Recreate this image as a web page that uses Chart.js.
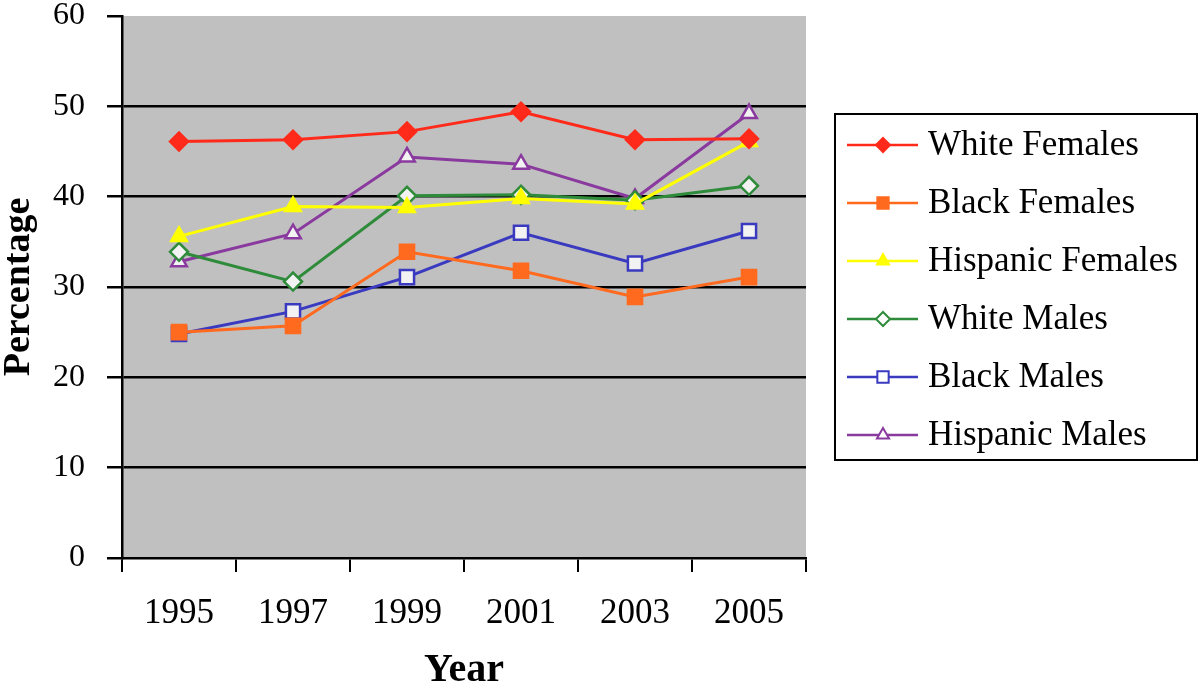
<!DOCTYPE html>
<html>
<head>
<meta charset="utf-8">
<script src="https://cdn.jsdelivr.net/npm/chart.js@4"></script>
<style>
  html, body { margin: 0; padding: 0; background: #fff; }
  #wrap { width: 1200px; height: 691px; }
</style>
</head>
<body>
<div id="wrap"><canvas id="chart"></canvas></div>
<script>
// data
const years = ["1995", "1997", "1999", "2001", "2003", "2005"];
const whiteFemales = [46.1, 46.3, 47.2, 49.4, 46.3, 46.4];
const blackFemales = [25.0, 25.7, 33.9, 31.8, 28.9, 31.1];
const hispanicFemales = [35.6, 38.9, 38.8, 39.8, 39.2, 46.1];
const whiteMales = [33.9, 30.6, 40.1, 40.2, 39.6, 41.2];
const blackMales = [24.8, 27.3, 31.1, 36.0, 32.6, 36.2];
const hispanicMales = [32.8, 35.9, 44.4, 43.6, 39.8, 49.2];
const yTicks = [0, 10, 20, 30, 40, 50, 60];

const serif = "'Liberation Serif', 'Times New Roman', serif";

function markerSize(style) {
  if (style === "rect") return 10;
  if (style === "triangle") return 9;
  return 9;
}

function series(label, data, color, style, filled) {
  return {
    label: label,
    data: data,
    borderColor: color,
    borderWidth: 3,
    pointStyle: style,
    pointRadius: markerSize(style),
    pointBorderColor: color,
    pointBorderWidth: 2.5,
    pointBackgroundColor: filled ? color : "#f2f2f2",
    tension: 0,
    fill: false,
    openMarker: !filled,
  };
}

const datasets = [
  series("White Females", whiteFemales, "#ff2a1a", "rectRot", true),
  series("Black Females", blackFemales, "#ff6a1f", "rect", true),
  series("Hispanic Females", hispanicFemales, "#ffff00", "triangle", true),
  series("White Males", whiteMales, "#2e8b3a", "rectRot", false),
  series("Black Males", blackMales, "#3a3ac0", "rect", false),
  series("Hispanic Males", hispanicMales, "#8a3a9f", "triangle", false),
];

// gray plot area
const plotBg = {
  id: "plotBg",
  beforeDraw: (chart) => {
    const { ctx, chartArea: a } = chart;
    ctx.save();
    ctx.fillStyle = "#c0c0c0";
    ctx.fillRect(a.left, a.top, a.right - a.left, a.bottom - a.top);
    ctx.restore();
  },
};

// boxed legend with line + marker samples
const boxLegend = {
  id: "boxLegend",
  afterDraw: (chart) => {
    const ctx = chart.ctx;
    const x0 = 835, y0 = 114, w = 362, h = 346;
    ctx.save();
    ctx.fillStyle = "#fff";
    ctx.fillRect(x0, y0, w, h);
    ctx.strokeStyle = "#000";
    ctx.lineWidth = 2;
    ctx.strokeRect(x0, y0, w, h);
    ctx.font = "35px " + serif;
    ctx.textBaseline = "middle";
    ctx.textAlign = "left";
    chart.data.datasets.forEach((ds, i) => {
      const y = 145 + i * 58;
      ctx.strokeStyle = ds.borderColor;
      ctx.lineWidth = 2.5;
      ctx.beginPath();
      ctx.moveTo(847, y);
      ctx.lineTo(918, y);
      ctx.stroke();
      ctx.fillStyle = ds.openMarker ? "#fff" : ds.pointBackgroundColor;
      ctx.strokeStyle = ds.pointBorderColor;
      ctx.lineWidth = 2;
      Chart.helpers.drawPoint(ctx, { pointStyle: ds.pointStyle, radius: ds.pointRadius - 2, rotation: 0, borderWidth: 2 }, 883, y);
      ctx.fillStyle = "#000";
      ctx.fillText(ds.label, 928, y + 1);
    });
    ctx.restore();
  },
};

const ctx = document.getElementById("chart");
new Chart(ctx, {
  type: "line",
  data: { labels: years, datasets: datasets },
  options: {
    responsive: true,
    maintainAspectRatio: false,
    animation: false,
    devicePixelRatio: 1,
    layout: { padding: { top: 16, right: 394, left: 0, bottom: 0 } },
    plugins: {
      legend: { display: false },
      tooltip: { enabled: false },
    },
    scales: {
      x: {
        offset: true,
        grid: {
          offset: true,
          drawOnChartArea: false,
          color: "#000",
          tickLength: 14,
          lineWidth: 2,
        },
        border: { display: true, color: "#000", width: 2.5 },
        ticks: {
          color: "#000",
          font: { family: serif, size: 35 },
          padding: 21,
          maxRotation: 0,
        },
        title: {
          display: true,
          text: "Year",
          color: "#000",
          font: { family: serif, size: 40, weight: "bold", lineHeight: 1 },
          padding: { top: 0, bottom: 0 },
        },
        afterFit: (scale) => {
          scale.height = 133;
          scale.paddingLeft = 0;
          scale.paddingRight = 0;
        },
      },
      y: {
        min: 0,
        max: 60,
        afterBuildTicks: (scale) => {
          scale.ticks = yTicks.map((v) => ({ value: v }));
        },
        grid: {
          color: (c) => (c.tick && c.tick.value > 0 && c.tick.value < 60 ? "#000" : "rgba(0,0,0,0)"),
          tickColor: "#000",
          lineWidth: 2.5,
          tickLength: 15,
        },
        border: { display: true, color: "#000", width: 2.5 },
        ticks: {
          color: "#000",
          font: { family: serif, size: 32 },
          padding: 22,
        },
        title: {
          display: true,
          text: "Percentage",
          color: "#000",
          font: { family: serif, size: 38, weight: "bold", lineHeight: 1 },
          padding: { top: 0, bottom: 0 },
        },
        afterFit: (scale) => {
          scale.width = 122;
          scale.paddingTop = 0;
          scale.paddingBottom = 0;
        },
      },
    },
  },
  plugins: [plotBg, boxLegend],
});
</script>
</body>
</html>
